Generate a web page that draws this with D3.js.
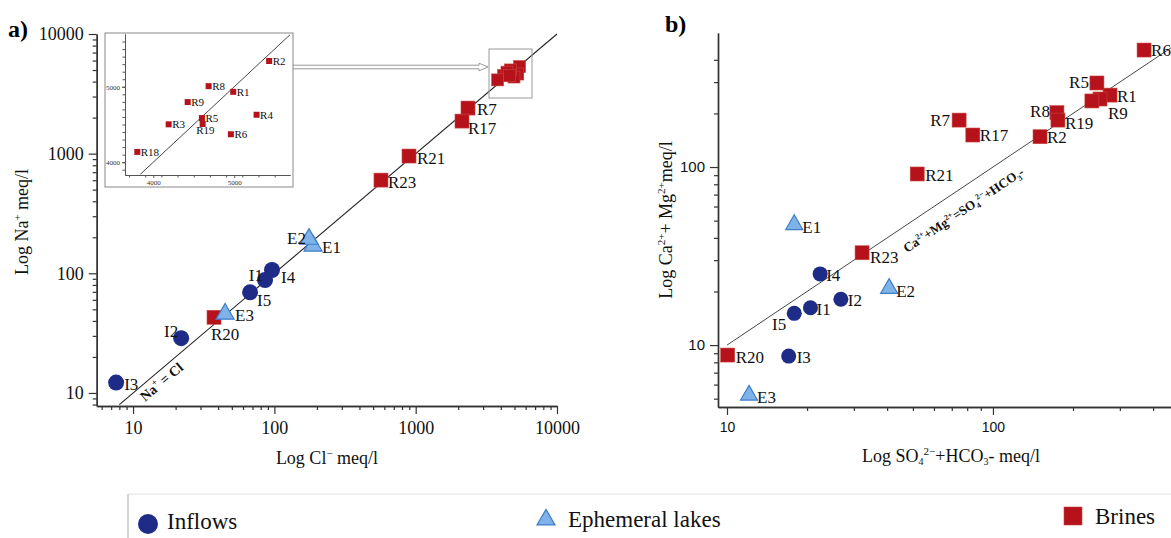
<!DOCTYPE html>
<html><head><meta charset="utf-8">
<script src="https://cdn.jsdelivr.net/npm/d3@7"></script>
<style>body{margin:0;background:#fff}</style>
</head><body><svg id="c" width="1171" height="538"></svg>
<script>
// ---------------- DATA ----------------
// Panel a) Na+ vs Cl- (meq/l)
const inflowA_names = ["I1","I2","I3","I4","I5"];
const inflowA_cl    = [85.9, 21.9, 7.59, 96.2, 67.3];
const inflowA_na    = [87.9, 28.7, 12.2, 106.6, 69.4];
const ephemA_names  = ["E1","E2","E3"];
const ephemA_cl     = [187.8, 175.8, 44.8];
const ephemA_na     = [172, 196, 46.4];
const brineA_names  = ["R7","R17","R20","R21","R23"];
const brineA_cl     = [2345, 2127, 37.4, 897, 568];
const brineA_na     = [2404, 1871, 42.9, 955, 601];
// inset cluster (same panel, zoomed)
const insetNames = ["R1","R2","R3","R4","R5","R6","R8","R9","R18","R19"];
const insetCl    = [4988, 5432, 4190, 5277, 4601, 4959, 4684, 4425, 3802, 4610];
const insetNa    = [4933, 5342, 4502, 4629, 4585, 4370, 5008, 4797, 4136, 4506];

// Panel b) Ca2+ + Mg2+ vs SO4 2- + HCO3- (meq/l)
const inflowB_names = ["I1","I2","I3","I4","I5"];
const inflowB_so4   = [20.6, 26.8, 17.06, 22.4, 17.9];
const inflowB_camg  = [16.2, 18.1, 8.67, 25.1, 15.07];
const ephemB_names  = ["E1","E2","E3"];
const ephemB_so4    = [17.9, 40.7, 12.1];
const ephemB_camg   = [47.9, 21.0, 5.28];
const brineB_names  = ["R1","R2","R4","R5","R6","R7","R8","R9","R17","R19","R20","R21","R23"];
const brineB_so4    = [275.5, 150.3, 252.6, 246, 370, 74.6, 174, 235.5, 84, 175.5, 10.06, 51.9, 32.2];
const brineB_camg   = [253.5, 148, 241, 296.5, 454, 183.5, 202, 235, 151.3, 183.5, 8.79, 91.4, 33.0];
const brineB_labels = ["R1","R2","","R5","R6","R7","R8","R9","R17","R19","R20","R21","R23"];

// ticks
const aMajor = [10, 100, 1000, 10000];
const bMajor = [10, 100];
const insetMajor = [4000, 5000];
const legendLabels = ["Inflows", "Ephemeral lakes", "Brines"];

// ---------------- STYLE ----------------
const SERIF = "'Liberation Serif','Times New Roman',serif";
const SANS = "'Liberation Sans',Arial,sans-serif";
const C_IN = "#1f2c87", C_EF = "#7fb2e6", C_EF_S = "#3d7dcc", C_BR = "#b5121b";
const AX = "#333";

const svg = d3.select("#c");
svg.append("rect").attr("width",1171).attr("height",538).attr("fill","#fff");

function minorsFor(domain) {
  const out = [];
  const lo = Math.floor(Math.log10(domain[0])), hi = Math.ceil(Math.log10(domain[1]));
  for (let e = lo; e <= hi; e++) for (let m = 2; m <= 9; m++) {
    const v = m * Math.pow(10, e);
    if (v >= domain[0] && v <= domain[1]) out.push(v);
  }
  return out;
}

function marker(g, type, x, y, s) {
  if (type === "c") {
    g.append("circle").attr("cx", x).attr("cy", y).attr("r", s/2).attr("fill", C_IN);
  } else if (type === "s") {
    g.append("rect").attr("x", x - s/2).attr("y", y - s/2).attr("width", s).attr("height", s)
      .attr("fill", C_BR).attr("stroke","#c9473f").attr("stroke-width",0.6);
  } else {
    const h = s * 0.866;
    g.append("path").attr("d", `M${x},${y - h*0.62}L${x + s/2},${y + h*0.38}L${x - s/2},${y + h*0.38}Z`)
      .attr("fill", C_EF).attr("stroke", C_EF_S).attr("stroke-width", 1.2);
  }
}
function label(g, x, y, txt, off, size) {
  g.append("text").attr("x", x + off[0]).attr("y", y + off[1]).attr("text-anchor", off[2] || "start")
    .attr("font-family", SERIF).attr("font-size", size).attr("fill", "#111").text(txt);
}
function styleAxis(sel, font, size) {
  sel.select(".domain").attr("stroke", AX).attr("stroke-width", 1.4);
  sel.selectAll(".tick line").attr("stroke", AX).attr("stroke-width", 1.2);
  sel.selectAll("text").attr("font-family", font).attr("font-size", size).attr("fill", "#111");
}

// ================= PANEL A =================
const xA = d3.scaleLog().domain([5.53, 10000]).range([96.7, 557]);
const yA = d3.scaleLog().domain([7.78, 10000]).range([406, 34]);
const gA = svg.append("g");

let ax = gA.append("g").attr("transform", "translate(0,406)")
  .call(d3.axisBottom(xA).tickValues(aMajor).tickFormat(d3.format("d")).tickSize(8).tickSizeOuter(0).tickPadding(7));
styleAxis(ax, SERIF, 18);
ax = gA.append("g").attr("transform", "translate(0,406)")
  .call(d3.axisBottom(xA).tickValues(minorsFor(xA.domain())).tickFormat("").tickSize(4).tickSizeOuter(0));
styleAxis(ax, SERIF, 18);
ax = gA.append("g").attr("transform", "translate(96.7,0)")
  .call(d3.axisLeft(yA).tickValues(aMajor).tickFormat(d3.format("d")).tickSize(8).tickSizeOuter(0).tickPadding(5));
styleAxis(ax, SERIF, 18);
ax = gA.append("g").attr("transform", "translate(96.7,0)")
  .call(d3.axisLeft(yA).tickValues(minorsFor(yA.domain())).tickFormat("").tickSize(4).tickSizeOuter(0));
styleAxis(ax, SERIF, 18);

// 1:1 line
gA.append("line").attr("x1", xA(8)).attr("y1", yA(8)).attr("x2", xA(10000)).attr("y2", yA(10000))
  .attr("stroke", "#222").attr("stroke-width", 1.1);
const angA = -Math.atan2(yA(10) - yA(100), xA(100) - xA(10)) * 180 / Math.PI;
const tA = gA.append("text").attr("transform", `translate(145,402) rotate(${angA})`)
  .attr("font-family", SERIF).attr("font-size", 14).attr("font-weight", "bold").attr("fill", "#111");
tA.append("tspan").text("Na");
tA.append("tspan").attr("dy", -6).attr("font-size", 9).text("+");
tA.append("tspan").attr("dy", 6).text(" = Cl");

svg.append("text").attr("x", 8).attr("y", 37).attr("font-family", SERIF).attr("font-size", 24)
  .attr("font-weight", "bold").text("a)");
const xtA = gA.append("text").attr("x", 327).attr("y", 464).attr("text-anchor", "middle")
  .attr("font-family", SERIF).attr("font-size", 18).attr("fill", "#111");
xtA.append("tspan").text("Log Cl");
xtA.append("tspan").attr("dy", -7).attr("font-size", 11).text("−");
xtA.append("tspan").attr("dy", 7).text(" meq/l");
const ytA = gA.append("text").attr("transform", "translate(28,222) rotate(-90)").attr("text-anchor", "middle")
  .attr("font-family", SERIF).attr("font-size", 18).attr("fill", "#111");
ytA.append("tspan").text("Log Na");
ytA.append("tspan").attr("dy", -7).attr("font-size", 11).text("+");
ytA.append("tspan").attr("dy", 7).text(" meq/l");

// cluster box + arrow
gA.append("rect").attr("x", 489).attr("y", 49).attr("width", 43).attr("height", 49)
  .attr("fill", "none").attr("stroke", "#999").attr("stroke-width", 1);
gA.append("path").attr("d", "M293,65.2L479,65.2L479,63.2L488,67L479,70.8L479,68.8L293,68.8")
  .attr("fill", "#fff").attr("stroke", "#999").attr("stroke-width", 1);

insetNames.forEach((n, i) => marker(gA, "s", xA(insetCl[i]), yA(insetNa[i]), 12));

const offA = {I1:[-2,1,"end"], I2:[-3,-1,"end"], I3:[8,7], I4:[9,13], I5:[7,14],
  E1:[9,8], E2:[-3,6,"end"], E3:[10,8], R7:[9,7], R17:[6,13], R20:[-3,23], R21:[8,8], R23:[7,8]};
brineA_names.forEach((n, i) => marker(gA, "s", xA(brineA_cl[i]), yA(brineA_na[i]), 14));
ephemA_names.forEach((n, i) => marker(gA, "t", xA(ephemA_cl[i]), yA(ephemA_na[i]), 18));
inflowA_names.forEach((n, i) => marker(gA, "c", xA(inflowA_cl[i]), yA(inflowA_na[i]), 16));
brineA_names.forEach((n, i) => label(gA, xA(brineA_cl[i]), yA(brineA_na[i]), n, offA[n], 17));
ephemA_names.forEach((n, i) => label(gA, xA(ephemA_cl[i]), yA(ephemA_na[i]), n, offA[n], 17));
inflowA_names.forEach((n, i) => label(gA, xA(inflowA_cl[i]), yA(inflowA_na[i]), n, offA[n], 17));

// ---------- inset ----------
const gI = svg.append("g");
gI.append("rect").attr("x", 105).attr("y", 33).attr("width", 188).attr("height", 154)
  .attr("fill", "#fff").attr("stroke", "#888").attr("stroke-width", 1);
const xI = d3.scaleLinear().domain([3650, 5690]).range([125, 290]);
const yI = d3.scaleLinear().domain([3830, 5700]).range([175, 34]);
const minorI_x = d3.range(3700, 5690, 200);
const minorI_y = d3.range(3900, 5700, 100);
ax = gI.append("g").attr("transform", "translate(0,175)")
  .call(d3.axisBottom(xI).tickValues(minorI_x).tickFormat("").tickSize(2.5).tickSizeOuter(0));
ax.select(".domain").attr("stroke", "#555"); ax.selectAll(".tick line").attr("stroke", "#555");
ax = gI.append("g").attr("transform", "translate(0,175)")
  .call(d3.axisBottom(xI).tickValues(insetMajor).tickFormat(d3.format("d")).tickSize(3).tickSizeOuter(0).tickPadding(2));
ax.select(".domain").attr("stroke", "#555"); ax.selectAll(".tick line").attr("stroke", "#555");
ax.selectAll("text").attr("font-family", SERIF).attr("font-size", 7).attr("fill", "#333");
ax = gI.append("g").attr("transform", "translate(125,0)")
  .call(d3.axisLeft(yI).tickValues(minorI_y).tickFormat("").tickSize(2.5).tickSizeOuter(0));
ax.select(".domain").attr("stroke", "#555"); ax.selectAll(".tick line").attr("stroke", "#555");
ax = gI.append("g").attr("transform", "translate(125,0)")
  .call(d3.axisLeft(yI).tickValues(insetMajor).tickFormat(d3.format("d")).tickSize(3).tickSizeOuter(0).tickPadding(2));
ax.select(".domain").attr("stroke", "#555"); ax.selectAll(".tick line").attr("stroke", "#555");
ax.selectAll("text").attr("font-family", SERIF).attr("font-size", 7).attr("fill", "#333");
gI.append("line").attr("x1", xI(3840)).attr("y1", yI(3840)).attr("x2", xI(5690)).attr("y2", yI(5690))
  .attr("stroke", "#333").attr("stroke-width", 0.9);
const offI = {R19:[-6.5,10]};
insetNames.forEach((n, i) => {
  const x = xI(insetCl[i]), y = yI(insetNa[i]);
  gI.append("rect").attr("x", x - 3).attr("y", y - 3).attr("width", 6).attr("height", 6).attr("fill", C_BR);
});
insetNames.forEach((n, i) => label(gI, xI(insetCl[i]), yI(insetNa[i]), n, offI[n] || [3.5, 4], 11));

// ================= PANEL B =================
const xB = d3.scaleLog().domain([9.25, 505]).range([718, 1180]);
const yB = d3.scaleLog().domain([4.49, 566]).range([407, 33]);
const gB = svg.append("g");
ax = gB.append("g").attr("transform", "translate(0,407)")
  .call(d3.axisBottom(xB).tickValues(bMajor).tickFormat(d3.format("d")).tickSize(8).tickSizeOuter(0).tickPadding(7));
styleAxis(ax, SANS, 14);
ax = gB.append("g").attr("transform", "translate(0,407)")
  .call(d3.axisBottom(xB).tickValues(minorsFor(xB.domain())).tickFormat("").tickSize(4).tickSizeOuter(0));
styleAxis(ax, SANS, 14);
ax = gB.append("g").attr("transform", "translate(718,0)")
  .call(d3.axisLeft(yB).tickValues(bMajor).tickFormat(d3.format("d")).tickSize(8).tickSizeOuter(0).tickPadding(5));
styleAxis(ax, SANS, 15);
ax = gB.append("g").attr("transform", "translate(718,0)")
  .call(d3.axisLeft(yB).tickValues(minorsFor([4.49, 450])).tickFormat("").tickSize(4).tickSizeOuter(0));
styleAxis(ax, SANS, 15);

gB.append("line").attr("x1", xB(10)).attr("y1", yB(10)).attr("x2", xB(520)).attr("y2", yB(520))
  .attr("stroke", "#333").attr("stroke-width", 0.9);
const angB = -Math.atan2(yB(10) - yB(100), xB(100) - xB(10)) * 180 / Math.PI;
const tB = gB.append("text").attr("transform", `translate(907,253) rotate(${angB})`)
  .attr("font-family", SERIF).attr("font-size", 13).attr("font-weight", "bold").attr("fill", "#111");
tB.append("tspan").text("Ca");
tB.append("tspan").attr("dy", -5).attr("font-size", 8).text("2+");
tB.append("tspan").attr("dy", 5).text("+Mg");
tB.append("tspan").attr("dy", -5).attr("font-size", 8).text("2+");
tB.append("tspan").attr("dy", 5).text("=SO");
tB.append("tspan").attr("dy", 3).attr("font-size", 8).text("4");
tB.append("tspan").attr("dy", -8).attr("font-size", 8).text("2−");
tB.append("tspan").attr("dy", 5).text("+HCO");
tB.append("tspan").attr("dy", 3).attr("font-size", 8).text("3");
tB.append("tspan").attr("dy", -3).text("-");

svg.append("text").attr("x", 665).attr("y", 32).attr("font-family", SERIF).attr("font-size", 24)
  .attr("font-weight", "bold").text("b)");
const xtB = gB.append("text").attr("x", 951).attr("y", 462).attr("text-anchor", "middle")
  .attr("font-family", SERIF).attr("font-size", 18).attr("fill", "#111");
xtB.append("tspan").text("Log SO");
xtB.append("tspan").attr("dy", 3).attr("font-size", 10).text("4");
xtB.append("tspan").attr("dy", -10).attr("font-size", 11).text("2−");
xtB.append("tspan").attr("dy", 7).text("+HCO");
xtB.append("tspan").attr("dy", 3).attr("font-size", 10).text("3");
xtB.append("tspan").attr("dy", -3).text("- meq/l");
const ytB = gB.append("text").attr("transform", "translate(672,220) rotate(-90)").attr("text-anchor", "middle")
  .attr("font-family", SERIF).attr("font-size", 18).attr("fill", "#111");
ytB.append("tspan").text("Log Ca");
ytB.append("tspan").attr("dy", -7).attr("font-size", 11).text("2+");
ytB.append("tspan").attr("dy", 7).text("+ Mg");
ytB.append("tspan").attr("dy", -7).attr("font-size", 11).text("2+");
ytB.append("tspan").attr("dy", 7).text("meq/l");

const offB = {I1:[6,7], I2:[7,7], I3:[8,7], I4:[6,7], I5:[-8,17,"end"],
  E1:[8,9], E2:[7,9], E3:[8,9],
  R1:[7,7], R2:[7,6], R5:[-8,5,"end"], R6:[7,6], R7:[-9,6,"end"], R8:[-7,4,"end"], R9:[16,18],
  R17:[7,6], R19:[7,9], R20:[8,8], R21:[8,7], R23:[8,10]};
brineB_names.forEach((n, i) => marker(gB, "s", xB(brineB_so4[i]), yB(brineB_camg[i]), 14));
ephemB_names.forEach((n, i) => marker(gB, "t", xB(ephemB_so4[i]), yB(ephemB_camg[i]), 17));
inflowB_names.forEach((n, i) => marker(gB, "c", xB(inflowB_so4[i]), yB(inflowB_camg[i]), 15));
brineB_names.forEach((n, i) => { if (brineB_labels[i]) label(gB, xB(brineB_so4[i]), yB(brineB_camg[i]), brineB_labels[i], offB[n], 17); });
ephemB_names.forEach((n, i) => label(gB, xB(ephemB_so4[i]), yB(ephemB_camg[i]), n, offB[n], 17));
inflowB_names.forEach((n, i) => label(gB, xB(inflowB_so4[i]), yB(inflowB_camg[i]), n, offB[n], 17));

// ================= LEGEND =================
const gL = svg.append("g");
gL.append("line").attr("x1", 128).attr("y1", 494).attr("x2", 1171).attr("y2", 494).attr("stroke", "#e4e4e4");
gL.append("line").attr("x1", 128).attr("y1", 494).attr("x2", 128).attr("y2", 538).attr("stroke", "#aaa");
const legTypes = ["c", "t", "s"];
const legX = [148, 546, 1073], legY = [524, 519, 516], legTY = [529, 527, 524];
legendLabels.forEach((t, i) => {
  marker(gL, legTypes[i], legX[i], legY[i], i === 0 ? 20 : 18);
  gL.append("text").attr("x", legX[i] + (i === 0 ? 19 : 22)).attr("y", legTY[i])
    .attr("font-family", SERIF).attr("font-size", 23).attr("fill", "#111").text(t);
});
</script></body></html>
